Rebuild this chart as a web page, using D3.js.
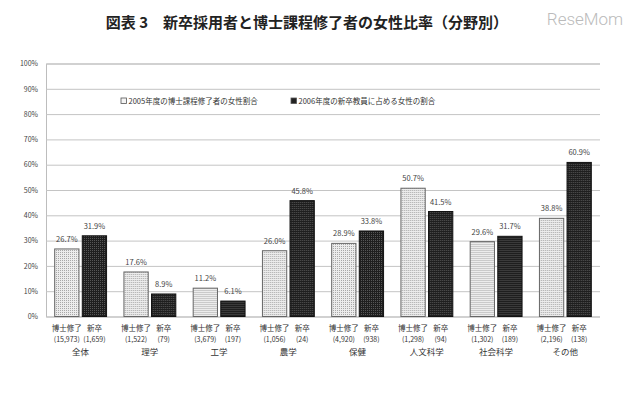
<!DOCTYPE html>
<html lang="ja">
<head>
  <meta charset="UTF-8">
  <script src="https://d3js.org/d3.v7.min.js"></script>
  <title>新卒採用者と博士課程修了者の女性比率</title>
  <style>
    body { margin: 0; background: #fff; }
    text { font-family: "Noto Sans CJK JP", "Noto Sans", sans-serif; fill: #333; }
    .title { font-size: 15px; font-weight: bold; fill: #222; }
    .tick text { font-size: 7px; fill: #444; }
    .val { font-size: 7.5px; fill: #444; }
    .xlab { font-size: 7.5px; }
    .cnt { font-size: 7px; }
    .cat { font-size: 8.5px; }
    .legend text { font-size: 7.5px; }
  </style>
</head>
<body>
  <div id="chart"></div>
  <script>
    // data
    const categories = ["全体", "理学", "工学", "農学", "保健", "人文科学", "社会科学", "その他"];
    const phdRatio = [26.7, 17.6, 11.2, 26.0, 28.9, 50.7, 29.6, 38.8];
    const newRatio = [31.9, 8.9, 6.1, 45.8, 33.8, 41.5, 31.7, 60.9];
    const phdCount = ["15,973", "1,522", "3,679", "1,056", "4,920", "1,298", "1,302", "2,196"];
    const newCount = ["1,659", "79", "197", "24", "938", "94", "189", "138"];
    const seriesNames = ["2005年度の博士課程修了者の女性割合", "2006年度の新卒教員に占める女性の割合"];
    const barLabels = ["博士修了", "新卒"];
    const yTicks = [0, 10, 20, 30, 40, 50, 60, 70, 80, 90, 100];

    const width = 640, height = 394;
    const margin = { top: 63.5, right: 40, bottom: 77.5, left: 46 };

    const svg = d3.select("#chart").append("svg")
      .attr("width", width)
      .attr("height", height);

    // dotted fills
    const defs = svg.append("defs");
    const light = defs.append("pattern").attr("id", "pLight")
      .attr("width", 2).attr("height", 2).attr("patternUnits", "userSpaceOnUse");
    light.append("rect").attr("width", 2).attr("height", 2).attr("fill", "#ececec");
    light.append("rect").attr("width", 1).attr("height", 1).attr("fill", "#a8a8a8");
    const dark = defs.append("pattern").attr("id", "pDark")
      .attr("width", 2).attr("height", 2).attr("patternUnits", "userSpaceOnUse");
    dark.append("rect").attr("width", 2).attr("height", 2).attr("fill", "#1e1e1e");
    dark.append("rect").attr("width", 1).attr("height", 1).attr("fill", "#555");
    const fills = ["url(#pLight)", "url(#pDark)"];
    const strokes = ["#666", "#111"];

    svg.append("text").attr("class", "title")
      .attr("x", 307).attr("y", 28).attr("text-anchor", "middle")
      .text("図表 3　新卒採用者と博士課程修了者の女性比率（分野別）");

    svg.append("text")
      .attr("x", 585).attr("y", 25).attr("text-anchor", "middle")
      .style("font-family", "Roboto, sans-serif").style("font-size", "17px")
      .style("font-weight", 300).style("fill", "#bbb")
      .text("ReseMom");

    const x = d3.scaleBand().domain(categories)
      .range([margin.left, width - margin.right]);
    const xs = d3.scaleBand().domain([0, 1])
      .range([0, x.bandwidth()]).paddingInner(0.12).paddingOuter(0.315);
    const y = d3.scaleLinear().domain([0, 100])
      .range([height - margin.bottom, margin.top]);

    // gridlines + y axis
    const yAxis = svg.append("g")
      .attr("transform", `translate(${margin.left},0)`)
      .call(d3.axisLeft(y).tickValues(yTicks).tickFormat(d => d + "%")
        .tickSize(-(width - margin.left - margin.right)).tickPadding(8));
    yAxis.select(".domain").attr("stroke", "#bdbdbd");
    yAxis.selectAll(".tick line").attr("stroke", "#c4c4c4");

    const rows = categories.map((c, i) => ({
      cat: c,
      vals: [phdRatio[i], newRatio[i]],
      counts: [phdCount[i], newCount[i]]
    }));

    const groups = svg.selectAll(".grp").data(rows).enter().append("g")
      .attr("transform", d => `translate(${x(d.cat)},0)`);

    groups.selectAll("rect").data(d => d.vals).enter().append("rect")
      .attr("x", (v, j) => xs(j))
      .attr("width", xs.bandwidth())
      .attr("y", v => y(v))
      .attr("height", v => y(0) - y(v))
      .attr("fill", (v, j) => fills[j])
      .attr("stroke", (v, j) => strokes[j])
      .attr("stroke-width", 1);

    groups.selectAll(".val").data(d => d.vals).enter().append("text")
      .attr("class", "val")
      .attr("x", (v, j) => xs(j) + xs.bandwidth() / 2)
      .attr("y", v => y(v) - 7)
      .attr("text-anchor", "middle")
      .text(v => v.toFixed(1) + "%");

    groups.selectAll(".xlab").data(barLabels).enter().append("text")
      .attr("class", "xlab")
      .attr("x", (t, j) => xs(j) + xs.bandwidth() / 2)
      .attr("y", height - margin.bottom + 14)
      .attr("text-anchor", "middle")
      .text(t => t);

    groups.selectAll(".cnt").data(d => d.counts).enter().append("text")
      .attr("class", "cnt")
      .attr("x", (t, j) => xs(j) + xs.bandwidth() / 2)
      .attr("y", height - margin.bottom + 25.5)
      .attr("text-anchor", "middle")
      .text(t => "(" + t + ")");

    groups.append("text").attr("class", "cat")
      .attr("x", x.bandwidth() / 2)
      .attr("y", height - margin.bottom + 38)
      .attr("text-anchor", "middle")
      .text(d => d.cat);

    // legend
    const legend = svg.append("g").attr("class", "legend");
    const legX = [121, 291];
    seriesNames.forEach((s, i) => {
      legend.append("rect")
        .attr("x", legX[i]).attr("y", 98)
        .attr("width", 5.5).attr("height", 5.5)
        .attr("fill", i === 0 ? "#f4f4f4" : "#222")
        .attr("stroke", "#555").attr("stroke-width", 0.8);
      legend.append("text")
        .attr("x", legX[i] + 7.5).attr("y", 103.5)
        .text(s);
    });
  </script>
</body>
</html>
